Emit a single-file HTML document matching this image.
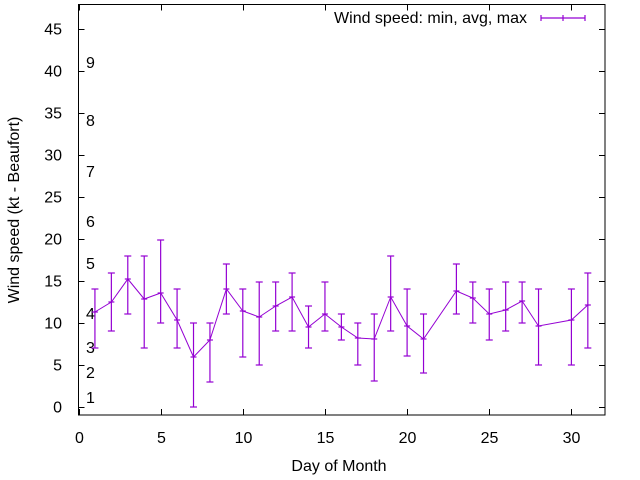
<!DOCTYPE html>
<html><head><meta charset="utf-8"><style>
html,body{margin:0;padding:0;background:#fff}
svg{display:block;font-family:"Liberation Sans",sans-serif}
</style></head><body>
<svg id="s" width="640" height="480" xmlns="http://www.w3.org/2000/svg"></svg>
<script>
var s=document.getElementById('s'),h='';
var L=78.5,R=605,T=4.5,B=415;
function X(d){return 78.5+d*16.43}
function Y(v){return 407-v*8.4}
h+='<rect x="'+L+'" y="'+T+'" width="'+(R-L)+'" height="'+(B-T)+'" fill="none" stroke="#000" stroke-width="1"/>';
for(var v=0;v<=45;v+=5){var y=Math.round(Y(v))+0.5;
h+='<line x1="'+L+'" y1="'+y+'" x2="'+(L+6)+'" y2="'+y+'" stroke="#000"/><line x1="'+R+'" y1="'+y+'" x2="'+(R-6)+'" y2="'+y+'" stroke="#000"/>';
h+='<text x="62" y="'+(y+5)+'" font-size="16" text-anchor="end">'+v+'</text>';}
for(var d=0;d<=30;d+=5){var x=Math.round(X(d))+0.5;
h+='<line x1="'+x+'" y1="'+B+'" x2="'+x+'" y2="'+(B-6)+'" stroke="#000"/><line x1="'+x+'" y1="'+T+'" x2="'+x+'" y2="'+(T+6)+'" stroke="#000"/>';
h+='<text x="'+x+'" y="443" font-size="16" text-anchor="middle">'+d+'</text>';}
h+='<text x="339" y="471" font-size="16" text-anchor="middle">Day of Month</text>';
h+='<text transform="translate(19,210) rotate(-90)" font-size="16" text-anchor="middle">Wind speed (kt - Beaufort)</text>';
var lab=[[1,397],[2,372],[3,347],[4,313],[5,263],[6,221],[7,171],[8,120],[9,62]];
lab.forEach(function(a){h+='<text x="86" y="'+(a[1]+6)+'" font-size="16">'+a[0]+'</text>'});
var D=[[1,312,348,289],[2,302,331,273],[3,279,314,256],[4,299,348,256],[5,293,323,240],[6,320,348,289],[7,357,407,323],[8,340,382,323],[9,289,314,264],[10,311,357,289],[11,317,365,282],[12,306,331,282],[13,297,331,273],[14,327,348,306],[15,314,331,282],[16,327,340,314],[17,338,365,323],[18,339,381,314],[19,297,331,256],[20,326,356,289],[21,339,373,314],[23,291,314,264],[24,298,323,282],[25,314,340,289],[26,310,331,282],[27,301,323,282],[28,326,365,289],[30,320,365,289],[31,305,348,273]];
var c='#9400d3',p='';
D.forEach(function(a){var x=X(a[0]);p+=(p?'L':'M')+x.toFixed(1)+' '+a[1];
h+='<line x1="'+x+'" y1="'+a[2]+'" x2="'+x+'" y2="'+a[3]+'" stroke="'+c+'" stroke-width="1.2"/>';
h+='<line x1="'+(x-3.5)+'" y1="'+a[2]+'" x2="'+(x+3.5)+'" y2="'+a[2]+'" stroke="'+c+'" stroke-width="1.2"/>';
h+='<line x1="'+(x-3.5)+'" y1="'+a[3]+'" x2="'+(x+3.5)+'" y2="'+a[3]+'" stroke="'+c+'" stroke-width="1.2"/>';
h+='<line x1="'+(x-3)+'" y1="'+a[1]+'" x2="'+(x+3)+'" y2="'+a[1]+'" stroke="'+c+'" stroke-width="1.2"/>';});
h+='<path d="'+p+'" fill="none" stroke="'+c+'" stroke-width="1"/>';
h+='<text x="527" y="23" font-size="16" text-anchor="end">Wind speed: min, avg, max</text>';
h+='<line x1="541" y1="18" x2="585" y2="18" stroke="'+c+'" stroke-width="1.2"/><line x1="541" y1="15" x2="541" y2="21" stroke="'+c+'" stroke-width="1.2"/><line x1="585" y1="15" x2="585" y2="21" stroke="'+c+'" stroke-width="1.2"/><line x1="563" y1="15" x2="563" y2="21" stroke="'+c+'" stroke-width="1.2"/>';
s.innerHTML=h;
</script>
</body></html>
